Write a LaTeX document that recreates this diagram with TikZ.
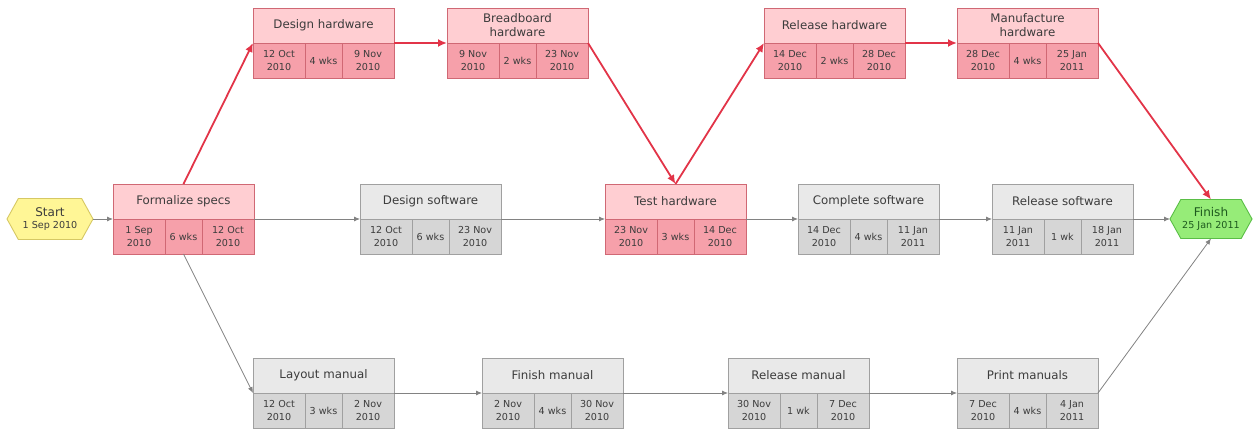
\documentclass[tikz,border=0pt]{standalone}
\usepackage{fontspec}
\setmainfont{DejaVu Sans}
\usetikzlibrary{arrows.meta,shapes.symbols}
\definecolor{rT}{RGB}{255,206,210}
\definecolor{rD}{RGB}{246,160,170}
\definecolor{rB}{RGB}{208,104,116}
\definecolor{gT}{RGB}{233,233,233}
\definecolor{gD}{RGB}{214,214,214}
\definecolor{gB}{RGB}{160,160,160}
\definecolor{txt}{RGB}{60,60,60}
\definecolor{redline}{RGB}{226,52,72}
\definecolor{greyline}{RGB}{130,130,130}
\definecolor{stF}{RGB}{255,246,150}
\definecolor{stB}{RGB}{214,200,100}
\definecolor{fiF}{RGB}{150,236,120}
\definecolor{fiB}{RGB}{90,190,70}
\definecolor{fiT}{RGB}{30,90,30}
\tikzset{
  title/.style={rectangle, minimum width=141pt, minimum height=35pt, inner sep=0pt, outer sep=0pt,
    align=center, font=\fontsize{11.8}{14}\selectfont, text=txt, line width=0.9pt},
  cell/.style={rectangle, minimum height=35pt, inner sep=0pt, outer sep=0pt,
    align=center, font=\fontsize{9.6}{12.5}\selectfont, text=txt, line width=0.9pt},
  redT/.style={draw=rB, fill=rT},
  redD/.style={draw=rB, fill=rD},
  greyT/.style={draw=gB, fill=gT},
  greyD/.style={draw=gB, fill=gD},
  hexa/.style={signal, signal to=east and west, signal pointer angle=122, minimum width=86pt,
    minimum height=41pt, inner sep=0pt, outer sep=0pt, align=center, line width=0.9pt,
    font=\fontsize{12}{15}\selectfont},
  redarrow/.style={draw=redline, line width=1.8pt, -{Latex[length=9pt,width=8pt]}},
  greyarrow/.style={draw=greyline, line width=0.8pt, -{Latex[length=6pt,width=5pt]}}
}
\newcommand{\taskbox}[7]{%
  \node[title, #3T, anchor=north west] (#1-t) at #2 {#4};
  \node[cell, #3D, minimum width=52pt, anchor=north west] (#1-a) at (#1-t.south west) {#5};
  \node[cell, #3D, minimum width=37pt, anchor=north west] (#1-b) at (#1-a.north east) {#6};
  \node[cell, #3D, minimum width=52pt, anchor=north west] (#1-c) at (#1-b.north east) {#7};
}
\begin{document}
\begin{tikzpicture}[x=1pt,y=-1pt]
\useasboundingbox (0,0) rectangle (1253,430);
% hexagon start / finish
\node[hexa, draw=stB, fill=stF, text=txt] (start) at (50,219) {Start\\[-3pt]{\fontsize{9.6}{11}\selectfont 1 Sep 2010}};
\node[hexa, draw=fiB, fill=fiF, text=fiT, minimum width=82pt, minimum height=39pt] (finish) at (1211,219) {Finish\\[-3pt]{\fontsize{9.6}{11}\selectfont 25 Jan 2011}};
% critical path (red)
\taskbox{fs}{(113,184)}{red}{Formalize specs}{1 Sep\\2010}{6 wks}{12 Oct\\2010}
\taskbox{dh}{(253,8)}{red}{Design hardware}{12 Oct\\2010}{4 wks}{9 Nov\\2010}
\taskbox{bh}{(447,8)}{red}{Breadboard\\hardware}{9 Nov\\2010}{2 wks}{23 Nov\\2010}
\taskbox{th}{(605,184)}{red}{Test hardware}{23 Nov\\2010}{3 wks}{14 Dec\\2010}
\taskbox{rh}{(764,8)}{red}{Release hardware}{14 Dec\\2010}{2 wks}{28 Dec\\2010}
\taskbox{mh}{(957,8)}{red}{Manufacture\\hardware}{28 Dec\\2010}{4 wks}{25 Jan\\2011}
% other tasks (grey)
\taskbox{ds}{(360,184)}{grey}{Design software}{12 Oct\\2010}{6 wks}{23 Nov\\2010}
\taskbox{cs}{(798,184)}{grey}{Complete software}{14 Dec\\2010}{4 wks}{11 Jan\\2011}
\taskbox{rs}{(992,184)}{grey}{Release software}{11 Jan\\2011}{1 wk}{18 Jan\\2011}
\taskbox{lm}{(253,358)}{grey}{Layout manual}{12 Oct\\2010}{3 wks}{2 Nov\\2010}
\taskbox{fm}{(482,358)}{grey}{Finish manual}{2 Nov\\2010}{4 wks}{30 Nov\\2010}
\taskbox{rm}{(728,358)}{grey}{Release manual}{30 Nov\\2010}{1 wk}{7 Dec\\2010}
\taskbox{pm}{(957,358)}{grey}{Print manuals}{7 Dec\\2010}{4 wks}{4 Jan\\2011}
% grey connectors
\draw[greyarrow] (start.east) -- (fs-t.south west);
\draw[greyarrow] (fs-t.south east) -- (ds-t.south west);
\draw[greyarrow] (ds-t.south east) -- (th-t.south west);
\draw[greyarrow] (th-t.south east) -- (cs-t.south west);
\draw[greyarrow] (cs-t.south east) -- (rs-t.south west);
\draw[greyarrow] (rs-t.south east) -- (finish.west);
\draw[greyarrow] (fs-b.south) -- (lm-t.south west);
\draw[greyarrow] (lm-t.south east) -- (fm-t.south west);
\draw[greyarrow] (fm-t.south east) -- (rm-t.south west);
\draw[greyarrow] (rm-t.south east) -- (pm-t.south west);
\draw[greyarrow] (pm-t.south east) -- (finish.south);
% red connectors
\draw[redarrow] (fs-t.north) -- (dh-t.south west);
\draw[redarrow] (dh-t.south east) -- (bh-t.south west);
\draw[redarrow] (bh-t.south east) -- (th-t.north);
\draw[redarrow] (th-t.north) -- (rh-t.south west);
\draw[redarrow] (rh-t.south east) -- (mh-t.south west);
\draw[redarrow] (mh-t.south east) -- (finish.north);
\end{tikzpicture}
\end{document}
